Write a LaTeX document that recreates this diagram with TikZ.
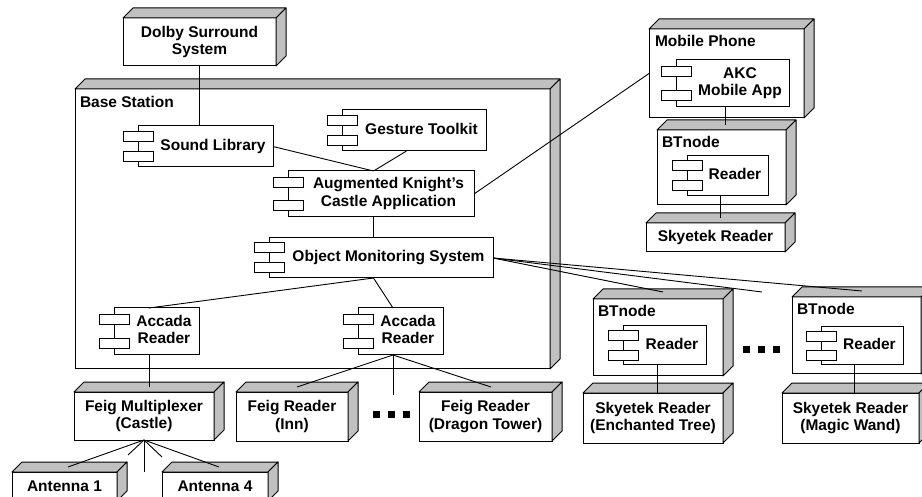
\documentclass[tikz,border=0pt]{standalone}
\usepackage{fontspec}
\setmainfont{Liberation Sans}
\usetikzlibrary{calc}
\definecolor{sidegray}{HTML}{C0C0C0}
\newcommand\fsz{\fontsize{15.5}{17.7}\selectfont\bfseries}
\newcommand\ct[1]{\hspace*{15pt}\begin{tabular}{@{}c@{}}#1\end{tabular}}
\newcommand\threeD[1]{%
  \filldraw[sidefill] (#1.north west) -- ++(10,-10) -- ([shift={(10,-10)}]#1.north east) -- (#1.north east) -- cycle;
  \filldraw[sidefill] (#1.north east) -- ([shift={(10,-10)}]#1.north east) -- ([shift={(10,-10)}]#1.south east) -- (#1.south east) -- cycle;}
\newcommand\comptabs[1]{%
  \foreach \f in {0.25,0.75}{\draw[tabst] ($(#1.north west)!\f!(#1.south west)+(-15,-5)$) rectangle ++(30,10);}}
\tikzset{
  every node/.style={font=\fsz, outer sep=0pt},
  frontbox/.style={draw, fill=white, inner sep=0pt, align=center, line width=1pt},
  compbox/.style={draw, fill=white, inner sep=0pt, line width=1pt},
  tabst/.style={draw, fill=white, line width=1pt},
  sidefill/.style={fill=sidegray, draw, line width=1pt, line join=round},
  conn/.style={line width=0.9pt},
  lbl/.style={anchor=base west, inner sep=0pt},
  sqdot/.style={fill=black, inner sep=0pt, minimum size=7pt}
}
\begin{document}
\begin{tikzpicture}[x=1pt,y=-1pt]
\useasboundingbox (0,0) rectangle (922,497);
\clip (0,0) rectangle (922,497);
\fill[white] (0,0) rectangle (922,497);

% Base station
\node[frontbox, minimum width=475, minimum height=280] (base) at (312.5,229) {};
\threeD{base}
\node[lbl] (basel) at ([shift={(5,19)}]base.north west) {Base Station};

% 3D nodes
\node[frontbox, minimum width=153, minimum height=48] (dolby) at (199.5,42) {Dolby Surround\\System};
\threeD{dolby}
\node[frontbox, minimum width=155, minimum height=89] (mobile) at (726.5,73.5) {};
\threeD{mobile}
\node[lbl] (mobilel) at ([shift={(6,18)}]mobile.north west) {Mobile Phone};
\node[frontbox, minimum width=129, minimum height=75] (bt0) at (721.5,167.5) {};
\threeD{bt0}
\node[lbl] (bt0l) at ([shift={(5,18)}]bt0.north west) {BTnode};
\node[frontbox, minimum width=139, minimum height=29] (sky0) at (715.5,237.5) {Skyetek Reader};
\threeD{sky0}
\node[frontbox, minimum width=130, minimum height=77] (bt1) at (658,337.5) {};
\threeD{bt1}
\node[lbl] (bt1l) at ([shift={(5,18)}]bt1.north west) {BTnode};
\node[frontbox, minimum width=140, minimum height=50] (sky1) at (653,418) {Skyetek Reader\\(Enchanted Tree)};
\threeD{sky1}
\node[frontbox, minimum width=129, minimum height=77] (bt2) at (856.5,335.5) {};
\threeD{bt2}
\node[lbl] (bt2l) at ([shift={(5,18)}]bt2.north west) {BTnode};
\node[frontbox, minimum width=137, minimum height=50] (sky2) at (850.5,418) {Skyetek Reader\\(Magic Wand)};
\threeD{sky2}
\node[frontbox, minimum width=140, minimum height=48] (mux) at (144,416) {Feig Multiplexer\\(Castle)};
\threeD{mux}
\node[frontbox, minimum width=112, minimum height=49] (inn) at (292,416.5) {Feig Reader\\(Inn)};
\threeD{inn}
\node[frontbox, minimum width=133, minimum height=49] (dragon) at (485.5,416.5) {Feig Reader\\(Dragon Tower)};
\threeD{dragon}
\node[frontbox, minimum width=105, minimum height=29] (ant1) at (64.5,486.5) {Antenna 1};
\threeD{ant1}
\node[frontbox, minimum width=106, minimum height=29] (ant4) at (215,486.5) {Antenna 4};
\threeD{ant4}

% components
\node[compbox, minimum width=135, minimum height=41] (sound) at (205.5,146.5) {\ct{Sound Library}};
\comptabs{sound}
\node[compbox, minimum width=144, minimum height=41] (gesture) at (414,130.5) {\ct{Gesture Toolkit}};
\comptabs{gesture}
\node[compbox, minimum width=186, minimum height=46] (akc) at (381,194) {\ct{Augmented Knight’s\\Castle Application}};
\comptabs{akc}
\node[compbox, minimum width=224, minimum height=40] (oms) at (381,258) {\ct{Object Monitoring System}};
\comptabs{oms}
\node[compbox, minimum width=85, minimum height=47] (acc1) at (156.5,331.5) {\ct{Accada\\Reader}};
\comptabs{acc1}
\node[compbox, minimum width=85, minimum height=47] (acc2) at (400.5,331.5) {\ct{Accada\\Reader}};
\comptabs{acc2}
\node[compbox, minimum width=113, minimum height=47] (mapp) at (732.5,83.5) {\ct{AKC\\Mobile App}};
\comptabs{mapp}
\node[compbox, minimum width=81, minimum height=40] (rd0) at (727.5,176) {\ct{Reader}};
\comptabs{rd0}
\node[compbox, minimum width=83, minimum height=39] (rd1) at (664.5,345.5) {\ct{Reader}};
\comptabs{rd1}
\node[compbox, minimum width=82, minimum height=38] (rd2) at (862,346) {\ct{Reader}};
\comptabs{rd2}

% ellipsis dots
\node[sqdot] (da1) at (376.7,414.3) {};
\node[sqdot] (da2) at (391.7,414.3) {};
\node[sqdot] (da3) at (406.7,414.3) {};
\node[sqdot] (db1) at (746,350) {};
\node[sqdot] (db2) at (761,350) {};
\node[sqdot] (db3) at (776,350) {};

% free ends
\coordinate (btfree) at (762,292);
\coordinate (accfree) at (393,395);
\coordinate (f1) at (128,455);
\coordinate (f2) at (144,472);
\coordinate (f3) at (162,457);

% connectors
\draw[conn] (dolby.south) -- (dolby.south |- sound.north);
\draw[conn] (sound.east) -- ([xshift=-7.5]akc.north);
\draw[conn] ([xshift=-7.5]gesture.south) -- ([xshift=-7.5]akc.north);
\draw[conn] (akc.east) -- (mobile.west);
\draw[conn] ([xshift=-7.5]akc.south) -- ([xshift=-7.5]oms.north);
\draw[conn] (oms.east) -- ([shift={(70,-7)}]bt1.north west);
\draw[conn] (oms.east) -- (btfree);
\draw[conn] (oms.east) -- ([shift={(70,-6)}]bt2.north west);
\draw[conn] ([xshift=-7.5]oms.south) -- ([xshift=-7.5]acc1.north);
\draw[conn] ([xshift=-7.5]oms.south) -- ([xshift=-7.5]acc2.north);
\draw[conn] ([xshift=-7.5]acc1.south) -- ([shift={(75,-5)}]mux.north west);
\draw[conn] ([xshift=-7.5]acc2.south) -- ([shift={(61,-5)}]inn.north west);
\draw[conn] ([xshift=-7.5]acc2.south) -- (accfree);
\draw[conn] ([xshift=-7.5]acc2.south) -- ([shift={(72,-5)}]dragon.north west);
\draw[conn] (mux.south) -- ([shift={(56,-5)}]ant1.north west);
\draw[conn] (mux.south) -- (f1);
\draw[conn] (mux.south) -- (f2);
\draw[conn] (mux.south) -- (f3);
\draw[conn] (mux.south) -- ([shift={(57,-5)}]ant4.north west);
\draw[conn] ([xshift=-7.5]mapp.south) -- ([shift={(68,-5)}]bt0.north west);
\draw[conn] ([xshift=-7.5]rd0.south) -- ([shift={(74,-5)}]sky0.north west);
\draw[conn] ([xshift=-7.5]rd1.south) -- ([xshift=-7.5]rd1.south |- sky1.north);
\draw[conn] ([xshift=-7.5]rd2.south) -- ([xshift=-7.5]rd2.south |- sky2.north);
\end{tikzpicture}
\end{document}
